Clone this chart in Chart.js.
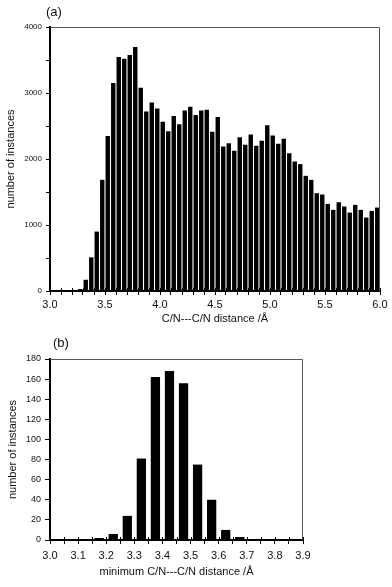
<!DOCTYPE html>
<html>
<head>
<meta charset="utf-8">
<script src="https://cdn.jsdelivr.net/npm/chart.js@4.4.0/dist/chart.umd.min.js"></script>
<style>
  body { margin: 0; background: #fff; width: 392px; height: 587px; position: relative; overflow: hidden; font-family: "Liberation Sans", Arial, sans-serif; }
  .panel { position: absolute; left: 0; width: 392px; }
  .tag { position: absolute; font-size: 13px; line-height: 15px; color: #111; z-index: 2; }
</style>
</head>
<body>
<div class="panel" style="top:0;height:330px"><canvas id="chartA"></canvas></div>
<div class="panel" style="top:330px;height:257px"><canvas id="chartB"></canvas></div>
<div class="tag" style="left:46px;top:4px">(a)</div>
<div class="tag" style="left:53px;top:335px">(b)</div>
<script>
// (a) all C/N---C/N contacts, bins of 0.05 Å (left edges)
const binsA = [3.00, 3.05, 3.10, 3.15, 3.20, 3.25, 3.30, 3.35, 3.40, 3.45,
  3.50, 3.55, 3.60, 3.65, 3.70, 3.75, 3.80, 3.85, 3.90, 3.95,
  4.00, 4.05, 4.10, 4.15, 4.20, 4.25, 4.30, 4.35, 4.40, 4.45,
  4.50, 4.55, 4.60, 4.65, 4.70, 4.75, 4.80, 4.85, 4.90, 4.95,
  5.00, 5.05, 5.10, 5.15, 5.20, 5.25, 5.30, 5.35, 5.40, 5.45,
  5.50, 5.55, 5.60, 5.65, 5.70, 5.75, 5.80, 5.85, 5.90, 5.95];
const countsA = [0, 0, 0, 0, 0, 30, 170, 510, 900, 1685,
  2347, 3150, 3545, 3520, 3575, 3697, 3080, 2720, 2857, 2766,
  2564, 2422, 2650, 2528, 2736, 2791, 2665, 2736, 2746, 2412,
  2635, 2190, 2240, 2124, 2331, 2215, 2372, 2200, 2276, 2513,
  2357, 2230, 2306, 2089, 1962, 1922, 1745, 1684, 1482, 1462,
  1320, 1229, 1345, 1280, 1188, 1305, 1229, 1113, 1214, 1264];

// (b) minimum C/N---C/N distance, bins of 0.05 Å (left edges)
const binsB = [3.00, 3.05, 3.10, 3.15, 3.20, 3.25, 3.30, 3.35, 3.40,
  3.45, 3.50, 3.55, 3.60, 3.65, 3.70, 3.75, 3.80, 3.85];
const countsB = [0, 0, 0, 2, 6, 24, 81, 162, 168,
  156, 75, 40, 10, 3, 0, 0, 0, 0];

const binWidth = 0.05;
const ink = '#111';
Chart.defaults.font.family = '"Liberation Sans", Arial, sans-serif';
Chart.defaults.color = ink;

const onStep = (v, step) => Math.abs(v / step - Math.round(v / step)) < 1e-6;

// thin top/right frame plus the part of the x ticks that pokes into the plot
const frame = {
  id: 'frame',
  afterDraw(chart, args, opts) {
    const { ctx, chartArea: a } = chart;
    const x = chart.scales.x;
    ctx.save();
    ctx.strokeStyle = '#555';
    ctx.lineWidth = 1;
    ctx.beginPath();
    ctx.moveTo(a.left, a.top + 0.5);
    ctx.lineTo(a.right - 0.5, a.top + 0.5);
    ctx.lineTo(a.right - 0.5, a.bottom);
    ctx.stroke();
    ctx.strokeStyle = '#000';
    ctx.beginPath();
    x.ticks.forEach((t, i) => {
      const px = Math.round(x.getPixelForTick(i)) + 0.5;
      ctx.moveTo(px, a.bottom);
      ctx.lineTo(px, a.bottom - opts.inner);
    });
    ctx.stroke();
    ctx.restore();
  }
};

function histogram(id, bins, counts, o) {
  return new Chart(document.getElementById(id), {
    type: 'bar',
    data: {
      datasets: [{
        data: bins.map((b, i) => ({ x: b + binWidth / 2, y: counts[i] })),
        backgroundColor: '#000',
        barPercentage: o.bar,
        categoryPercentage: 1
      }]
    },
    options: {
      responsive: true,
      maintainAspectRatio: false,
      animation: false,
      layout: { padding: { top: o.top, right: o.right, left: 0, bottom: 0 } },
      plugins: { legend: { display: false }, tooltip: { enabled: false }, frame: { inner: 3 } },
      scales: {
        x: {
          type: 'linear', min: o.xmin, max: o.xmax, offset: false,
          grid: { offset: false, drawOnChartArea: false, tickLength: 4, color: '#000' },
          border: { color: '#000', width: 2 },
          ticks: {
            stepSize: o.xstep, autoSkip: false, maxRotation: 0, padding: o.xpad,
            font: { size: 11 },
            callback: v => onStep(v, o.xlabel) ? v.toFixed(1) : ''
          },
          title: { display: true, text: o.xtitle, font: { size: 11 }, padding: { top: 0, bottom: o.xtitlePad } },
          afterFit: s => { s.height = o.xh; }
        },
        y: {
          min: 0, max: o.ymax,
          grid: { drawOnChartArea: false, tickLength: o.ytick, color: '#000' },
          border: { color: '#000', width: 2 },
          ticks: {
            stepSize: o.ystep, padding: 4, font: { size: o.yfont },
            callback: v => onStep(v, o.ylabel) ? v : ''
          },
          title: { display: true, text: 'number of instances', font: { size: 11 }, padding: { top: o.ytitlePad, bottom: 0 } },
          afterFit: s => { s.width = 50; }
        }
      }
    },
    plugins: [frame]
  });
}

histogram('chartA', binsA, countsA, {
  bar: 0.8, top: 27, right: 12,
  xmin: 3, xmax: 6, xstep: 0.1, xlabel: 0.5, xpad: 3, xh: 39,
  xtitle: 'C/N---C/N distance /Å', xtitlePad: 4,
  ymax: 4000, ystep: 500, ylabel: 1000, yfont: 8, ytick: 4, ytitlePad: 4
});

histogram('chartB', binsB, countsB, {
  bar: 0.66, top: 29, right: 89,
  xmin: 3, xmax: 3.9, xstep: 0.05, xlabel: 0.1, xpad: 5, xh: 47,
  xtitle: 'minimum C/N---C/N distance /Å', xtitlePad: 8,
  ymax: 180, ystep: 20, ylabel: 20, yfont: 9, ytick: 5, ytitlePad: 6
});
</script>
</body>
</html>
